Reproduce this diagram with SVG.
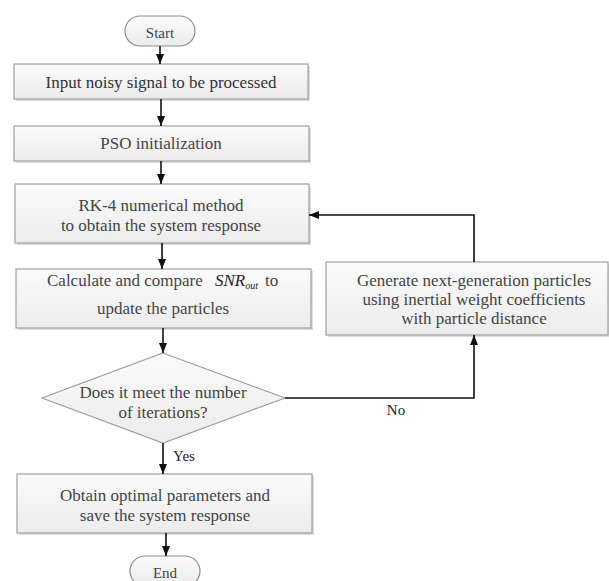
<svg xmlns="http://www.w3.org/2000/svg" width="609" height="581" viewBox="0 0 609 581">
<defs>
<linearGradient id="g" x1="0" y1="0" x2="0" y2="1">
<stop offset="0" stop-color="#fbfbfb"/>
<stop offset="1" stop-color="#ececec"/>
</linearGradient>
<marker id="ah" viewBox="0 0 10 10" refX="10" refY="5" markerWidth="10" markerHeight="10" markerUnits="userSpaceOnUse" orient="auto">
<path d="M0,1 L10,5 L0,9 Z" fill="#111"/>
</marker>
</defs>
<style>
.box{fill:url(#g);stroke:#a0a0a0;stroke-width:1.2}
.sh{fill:#dcdcdc}
.term{fill:url(#g);stroke:#8c8c8c;stroke-width:1.2}
text{font-family:"Liberation Serif","Times New Roman",serif;font-size:17px;fill:#444;text-anchor:middle}
.lbl{fill:#222;font-size:15px}
.c{fill:none;stroke:#111;stroke-width:1.6;marker-end:url(#ah)}
</style>
<rect width="609" height="581" fill="#fff"/>
<g id="start">
<rect class="term" x="125" y="16" width="70" height="30" rx="15"/>
<text x="160" y="38" style="font-size:15px">Start</text>
</g>
<g id="input">
<rect class="sh" x="16" y="66" width="294" height="35"/>
<rect class="box" x="14" y="64" width="294" height="35"/>
<text x="161" y="88" style="fill:#333">Input noisy signal to be processed</text>
</g>
<g id="pso">
<rect class="sh" x="16" y="128" width="295" height="35"/>
<rect class="box" x="14" y="126" width="295" height="35"/>
<text x="161" y="149">PSO initialization</text>
</g>
<g id="rk4">
<rect class="sh" x="17" y="186" width="294" height="59"/>
<rect class="box" x="15" y="184" width="294" height="59"/>
<text x="161" y="211">RK-4 numerical method</text>
<text x="161" y="231">to obtain the system response</text>
</g>
<g id="calc">
<rect class="sh" x="18" y="271" width="295" height="59"/>
<rect class="box" x="16" y="269" width="295" height="59"/>
<text x="47" y="286" style="text-anchor:start">Calculate and compare</text>
<text x="215" y="286" style="text-anchor:start;font-style:italic;fill:#222">SNR<tspan style="font-size:10px" dy="3">out</tspan></text>
<text x="265" y="286" style="text-anchor:start">to</text>
<text x="163" y="314">update the particles</text>
</g>
<g id="decision">
<polygon points="163,353 285,398 163,443 42,398" fill="url(#g)" stroke="#a0a0a0" stroke-width="1.2"/>
<text x="163" y="398">Does it meet the number</text>
<text x="163" y="418">of iterations?</text>
</g>
<g id="generate">
<rect class="sh" x="328" y="264" width="282" height="73"/>
<rect class="box" x="326" y="262" width="282" height="73"/>
<text x="474" y="286">Generate next-generation particles</text>
<text x="474" y="305">using inertial weight coefficients</text>
<text x="474" y="324">with particle distance</text>
</g>
<g id="obtain">
<rect class="sh" x="19" y="476" width="295" height="59"/>
<rect class="box" x="17" y="474" width="295" height="59"/>
<text x="165" y="501">Obtain optimal parameters and</text>
<text x="165" y="521">save the system response</text>
</g>
<g id="end">
<rect class="term" x="130" y="556" width="70" height="30" rx="15"/>
<text x="165" y="578" style="font-size:15px">End</text>
</g>
<g id="connectors">
<line class="c" x1="160" y1="46" x2="160" y2="64"/>
<line class="c" x1="161" y1="99" x2="161" y2="126"/>
<line class="c" x1="161" y1="161" x2="161" y2="184"/>
<line class="c" x1="162" y1="243" x2="162" y2="269"/>
<line class="c" x1="163" y1="328" x2="163" y2="353"/>
<line class="c" x1="163" y1="443" x2="163" y2="474"/>
<line class="c" x1="166" y1="533" x2="166" y2="556"/>
<polyline class="c" points="285,398 474,398 474,335"/>
<polyline class="c" points="474,262 474,215 309,215"/>
<text class="lbl" x="184" y="461">Yes</text>
<text class="lbl" x="396" y="415">No</text>
</g>
</svg>
